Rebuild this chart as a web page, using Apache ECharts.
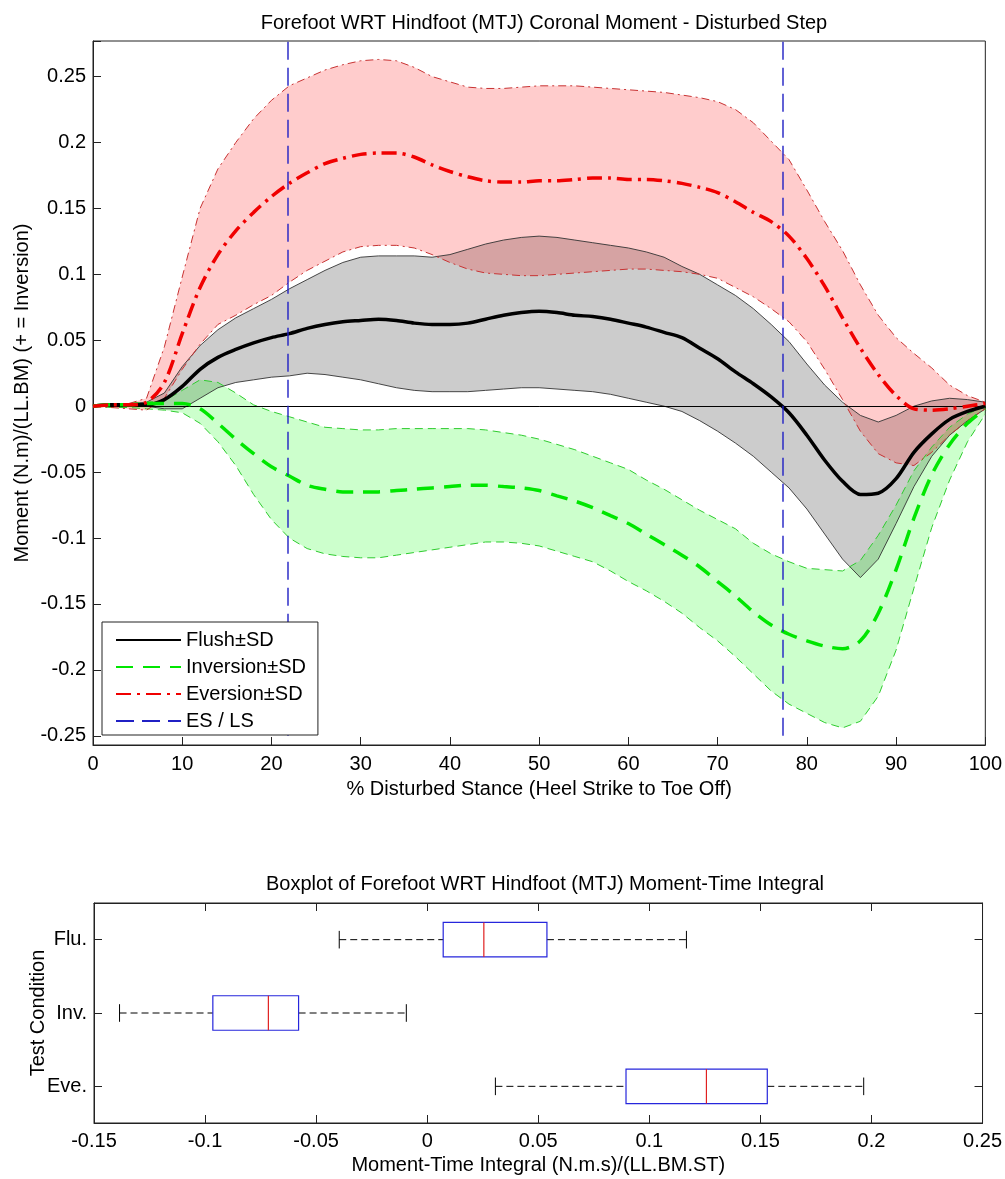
<!DOCTYPE html>
<html>
<head>
<meta charset="utf-8">
<script src="https://cdn.jsdelivr.net/npm/echarts@6/dist/echarts.min.js"></script>
<style>
  html, body { margin: 0; padding: 0; background: #fff; }
  #chart { width: 1005px; height: 1179px; }
</style>
</head>
<body>
<div id="chart"></div>
<script>
// % of disturbed stance (heel strike to toe off)
const stance = [0,2,4,6,8,10,12,14,16,18,20,22,24,26,28,30,32,34,36,38,40,42,44,46,48,50,
  52,54,56,58,60,62,64,66,68,70,72,74,76,78,80,82,84,86,88,90,92,94,96,98,100];

// Flush condition: mean and ±SD bounds, (N.m)/(LL.BM)
const flushMean = [0.000,0.001,0.001,0.001,0.005,0.015,0.028,0.037,0.043,0.048,0.052,0.055,0.059,0.062,0.064,0.065,0.066,0.065,0.063,0.062,0.062,0.063,0.066,0.069,0.071,0.072,
  0.071,0.069,0.068,0.066,0.063,0.060,0.056,0.052,0.044,0.036,0.026,0.017,0.007,-0.005,-0.022,-0.041,-0.057,-0.067,-0.066,-0.055,-0.035,-0.021,-0.010,-0.004,0.000];
const flushUpper = [0.001,0.001,0.002,0.003,0.010,0.030,0.046,0.058,0.067,0.074,0.081,0.089,0.096,0.103,0.109,0.113,0.114,0.114,0.114,0.113,0.115,0.119,0.123,0.126,0.128,0.129,
  0.128,0.126,0.124,0.122,0.120,0.117,0.113,0.106,0.100,0.092,0.084,0.074,0.062,0.049,0.032,0.016,0.003,-0.007,-0.012,-0.007,0.000,0.004,0.006,0.005,0.003];
const flushLower = [0.000,0.000,0.000,0.000,-0.002,-0.002,0.006,0.014,0.018,0.020,0.022,0.023,0.025,0.024,0.022,0.020,0.017,0.014,0.012,0.011,0.011,0.011,0.012,0.013,0.014,0.014,
  0.013,0.012,0.011,0.009,0.006,0.003,0.000,-0.004,-0.011,-0.019,-0.028,-0.038,-0.050,-0.062,-0.078,-0.097,-0.116,-0.130,-0.116,-0.089,-0.061,-0.038,-0.022,-0.011,-0.002];

// Inversion condition
const inversionMean = [0.000,0.001,0.001,0.002,0.002,0.002,-0.002,-0.013,-0.025,-0.036,-0.046,-0.053,-0.060,-0.063,-0.065,-0.065,-0.065,-0.064,-0.063,-0.062,-0.061,-0.060,-0.060,-0.061,-0.062,-0.064,
  -0.068,-0.072,-0.077,-0.083,-0.089,-0.097,-0.105,-0.113,-0.122,-0.133,-0.144,-0.156,-0.166,-0.173,-0.178,-0.182,-0.184,-0.178,-0.157,-0.124,-0.085,-0.052,-0.029,-0.013,-0.002];
const inversionUpper = [0.001,0.001,0.002,0.003,0.004,0.012,0.020,0.018,0.010,0.001,-0.004,-0.008,-0.012,-0.016,-0.017,-0.018,-0.018,-0.017,-0.017,-0.017,-0.017,-0.017,-0.018,-0.020,-0.022,-0.025,
  -0.029,-0.033,-0.038,-0.043,-0.048,-0.056,-0.063,-0.071,-0.079,-0.086,-0.093,-0.104,-0.112,-0.118,-0.123,-0.124,-0.125,-0.117,-0.098,-0.075,-0.049,-0.031,-0.016,-0.006,0.000];
const inversionLower = [0.000,-0.001,-0.001,-0.002,-0.003,-0.005,-0.013,-0.027,-0.045,-0.067,-0.086,-0.100,-0.108,-0.112,-0.114,-0.115,-0.115,-0.113,-0.111,-0.109,-0.107,-0.105,-0.103,-0.103,-0.104,-0.106,
  -0.110,-0.114,-0.118,-0.125,-0.133,-0.140,-0.148,-0.157,-0.168,-0.178,-0.190,-0.203,-0.216,-0.226,-0.233,-0.240,-0.244,-0.239,-0.220,-0.185,-0.138,-0.092,-0.056,-0.027,-0.006];

// Eversion condition
const eversionMean = [0.000,0.001,0.001,0.003,0.018,0.055,0.090,0.115,0.133,0.147,0.159,0.169,0.177,0.184,0.188,0.191,0.192,0.192,0.189,0.183,0.178,0.174,0.171,0.170,0.170,0.171,
  0.171,0.172,0.173,0.173,0.172,0.172,0.171,0.169,0.166,0.162,0.155,0.147,0.140,0.129,0.112,0.091,0.067,0.044,0.024,0.008,-0.002,-0.003,-0.002,0.000,0.002];
const eversionUpper = [0.000,0.001,0.002,0.006,0.045,0.098,0.150,0.180,0.200,0.218,0.232,0.243,0.249,0.255,0.259,0.262,0.263,0.262,0.257,0.250,0.246,0.242,0.241,0.241,0.242,0.243,
  0.243,0.243,0.242,0.241,0.240,0.239,0.238,0.236,0.234,0.231,0.225,0.215,0.201,0.187,0.164,0.140,0.118,0.092,0.069,0.052,0.040,0.029,0.016,0.008,0.003];
const eversionLower = [0.000,-0.001,-0.002,-0.003,0.006,0.028,0.047,0.062,0.069,0.077,0.084,0.094,0.103,0.110,0.117,0.121,0.122,0.122,0.120,0.115,0.109,0.104,0.101,0.100,0.099,0.099,
  0.100,0.101,0.102,0.103,0.104,0.104,0.103,0.102,0.100,0.097,0.090,0.083,0.074,0.064,0.049,0.028,0.005,-0.019,-0.036,-0.043,-0.045,-0.035,-0.022,-0.011,-0.002];

// Early-stance / late-stance boundaries (% stance) and their drawn extent
const esLs = [21.8, 77.3];
const esLsSpan = [-0.25, 0.277];

// Moment-time integral summary per test condition
const boxCats = ['Flu.', 'Inv.', 'Eve.'];
const whiskerLow = [-0.0396, -0.1385, 0.0307];
const quart1 = [0.0072, -0.0965, 0.0895];
const medians = [0.0255, -0.0715, 0.1257];
const quart3 = [0.0539, -0.0579, 0.1531];
const whiskerHigh = [0.1167, -0.0094, 0.1965];

const FONT = '"Liberation Sans", Arial, sans-serif';
const ES_BLUE = '#2020c4';
const pairs = arr => stance.map((x, i) => [x, arr[i]]);
const fmt = v => String(+v.toFixed(2));

function band(name, upper, lower, fill) {
  return {
    type: 'custom', name, xAxisIndex: 0, yAxisIndex: 0, data: [0], silent: true, z: 1,
    renderItem(params, api) {
      const pts = [];
      for (let i = 0; i < stance.length; i++) pts.push(api.coord([stance[i], upper[i]]));
      for (let i = stance.length - 1; i >= 0; i--) pts.push(api.coord([stance[i], lower[i]]));
      return { type: 'polygon', shape: { points: pts }, style: { fill: fill, stroke: null } };
    }
  };
}

function bound(name, arr, color, width, dash) {
  return {
    type: 'line', name, xAxisIndex: 0, yAxisIndex: 0, data: pairs(arr), symbol: 'none',
    silent: true, z: 3, lineStyle: { color, width, type: dash }
  };
}

function mean(name, arr, color, dash) {
  return {
    type: 'line', name, xAxisIndex: 0, yAxisIndex: 0, data: pairs(arr), symbol: 'none',
    smooth: 0.3, silent: true, z: 5, lineStyle: { color, width: 3.5, type: dash, cap: 'butt' },
    itemStyle: { color }
  };
}

const series = [
  band('Flush band', flushUpper, flushLower, 'rgba(0,0,0,0.2)'),
  band('Inversion band', inversionUpper, inversionLower, 'rgba(0,255,0,0.2)'),
  band('Eversion band', eversionUpper, eversionLower, 'rgba(255,0,0,0.2)'),
  bound('Flush upper', flushUpper, '#333333', 0.9, 'solid'),
  bound('Flush lower', flushLower, '#333333', 0.9, 'solid'),
  bound('Inversion upper', inversionUpper, '#2ecc2e', 1, [8, 5]),
  bound('Inversion lower', inversionLower, '#2ecc2e', 1, [8, 5]),
  bound('Eversion upper', eversionUpper, '#c83232', 1, [8, 4, 2, 4]),
  bound('Eversion lower', eversionLower, '#c83232', 1, [8, 4, 2, 4]),
  Object.assign(mean('Flush±SD', flushMean, '#000000', 'solid'), {
    markLine: {
      silent: true, symbol: 'none', label: { show: false },
      lineStyle: { color: '#000', width: 1, type: 'solid' },
      data: [{ yAxis: 0 }]
    }
  }),
  mean('Inversion±SD', inversionMean, '#00e600', [17, 10]),
  mean('Eversion±SD', eversionMean, '#f00000', [15, 6, 3, 6]),
  // legend entry for the stance-phase boundaries
  {
    type: 'line', name: 'ES / LS', xAxisIndex: 0, yAxisIndex: 0, symbol: 'none', silent: true,
    data: [], lineStyle: { color: ES_BLUE, width: 1.2, type: [18, 8] }, itemStyle: { color: ES_BLUE }
  },
  // the boundary lines themselves
  {
    type: 'custom', name: 'ES / LS lines', xAxisIndex: 0, yAxisIndex: 0, silent: true, z: 6,
    data: [0],
    renderItem(params, api) {
      return {
        type: 'group',
        children: esLs.map(x => {
          const p0 = api.coord([x, esLsSpan[0]]);
          const p1 = api.coord([x, esLsSpan[1]]);
          return {
            type: 'line', shape: { x1: Math.round(p0[0]), y1: p0[1], x2: Math.round(p1[0]), y2: p1[1] },
            style: { stroke: ES_BLUE, lineWidth: 1.4, lineDash: [18, 8], fill: null }
          };
        })
      };
    }
  }
];

// boxplot of moment-time integral
series.push({
  type: 'custom', name: 'Moment-time integral', xAxisIndex: 1, yAxisIndex: 1, silent: true, z: 3,
  data: boxCats.map((c, i) => [i, whiskerLow[i], quart1[i], medians[i], quart3[i], whiskerHigh[i]]),
  encode: { y: 0, x: [1, 2, 3, 4, 5] },
  renderItem(params, api) {
    const cat = api.value(0);
    const bandH = api.size([0, 1])[1];
    const hb = bandH * 0.235, hc = bandH * 0.12;
    const lo = api.coord([api.value(1), cat]);
    const b1 = api.coord([api.value(2), cat]);
    const md = api.coord([api.value(3), cat]);
    const b3 = api.coord([api.value(4), cat]);
    const hi = api.coord([api.value(5), cat]);
    const cy = lo[1];
    const dashed = { stroke: '#000', lineWidth: 1, lineDash: [7, 4] };
    const solid = { stroke: '#000', lineWidth: 1 };
    return {
      type: 'group', children: [
        { type: 'line', shape: { x1: lo[0], y1: cy, x2: b1[0], y2: cy }, style: dashed },
        { type: 'line', shape: { x1: b3[0], y1: cy, x2: hi[0], y2: cy }, style: dashed },
        { type: 'line', shape: { x1: lo[0], y1: cy - hc, x2: lo[0], y2: cy + hc }, style: solid },
        { type: 'line', shape: { x1: hi[0], y1: cy - hc, x2: hi[0], y2: cy + hc }, style: solid },
        { type: 'rect', shape: { x: b1[0], y: cy - hb, width: b3[0] - b1[0], height: 2 * hb },
          style: { fill: null, stroke: '#2626dc', lineWidth: 1.2 } },
        { type: 'line', shape: { x1: md[0], y1: cy - hb, x2: md[0], y2: cy + hb },
          style: { stroke: '#e02020', lineWidth: 1.2 } }
      ]
    };
  }
});

const axisText = { fontSize: 20, color: '#000', fontFamily: FONT };
const frameLine = { show: true, onZero: false, lineStyle: { color: '#222', width: 1 } };
const inTicks = { show: true, inside: true, length: 8, lineStyle: { color: '#222', width: 1 } };

const option = {
  animation: false,
  backgroundColor: '#fff',
  textStyle: { fontFamily: FONT },
  title: [
    { text: 'Forefoot WRT Hindfoot (MTJ) Coronal Moment - Disturbed Step', left: 539, top: 8, textAlign: 'center',
      textStyle: { fontSize: 20, fontWeight: 'normal', color: '#000', fontFamily: FONT } },
    { text: 'Boxplot of Forefoot WRT Hindfoot (MTJ) Moment-Time Integral', left: 540, top: 869, textAlign: 'center',
      textStyle: { fontSize: 20, fontWeight: 'normal', color: '#000', fontFamily: FONT } }
  ],
  legend: {
    orient: 'vertical', left: 102, top: 622, selectedMode: false, z: 10,
    backgroundColor: '#fff', borderColor: '#222', borderWidth: 1, borderRadius: 0,
    padding: [8, 12, 4, 13], itemWidth: 65, itemHeight: 20, itemGap: 7,
    itemStyle: { color: 'transparent', borderColor: 'transparent', borderWidth: 0, opacity: 0 },
    textStyle: { fontSize: 20, color: '#000', fontFamily: FONT },
    data: ['Flush±SD', 'Inversion±SD', 'Eversion±SD', 'ES / LS']
  },
  grid: [
    { left: 93, top: 41, right: 19, bottom: 434, show: true, borderColor: '#222', borderWidth: 1, backgroundColor: 'transparent' },
    { left: 94, top: 903, right: 18, bottom: 56, show: true, borderColor: '#222', borderWidth: 1, backgroundColor: 'transparent' }
  ],
  xAxis: [
    { type: 'value', gridIndex: 0, min: 0, max: 100, interval: 10,
      axisLine: frameLine, axisTick: inTicks, splitLine: { show: false },
      axisLabel: Object.assign({ margin: 9 }, axisText),
      name: '% Disturbed Stance (Heel Strike to Toe Off)', nameLocation: 'middle', nameGap: 34,
      nameTextStyle: axisText },
    { type: 'value', gridIndex: 1, min: -0.15, max: 0.25, interval: 0.05,
      axisLine: frameLine, axisTick: inTicks, splitLine: { show: false },
      axisLabel: Object.assign({ margin: 8, formatter: fmt }, axisText),
      name: 'Moment-Time Integral (N.m.s)/(LL.BM.ST)', nameLocation: 'middle', nameGap: 32,
      nameTextStyle: axisText },
    { type: 'value', gridIndex: 1, position: 'top', min: -0.15, max: 0.25, interval: 0.05,
      axisLine: frameLine, axisTick: inTicks, splitLine: { show: false }, axisLabel: { show: false } }
  ],
  yAxis: [
    { type: 'value', gridIndex: 0, min: -0.257, max: 0.277, splitNumber: 10,
      axisLine: frameLine, axisTick: inTicks, splitLine: { show: false },
      axisLabel: Object.assign({ margin: 7, showMinLabel: true, showMaxLabel: true,
        formatter: v => (Math.abs(v / 0.05 - Math.round(v / 0.05)) < 1e-6 ? fmt(v) : '') }, axisText),
      name: 'Moment (N.m)/(LL.BM) (+ = Inversion)', nameLocation: 'middle', nameGap: 61,
      nameMoveOverlap: false, nameTextStyle: axisText },
    { type: 'category', gridIndex: 1, data: boxCats, inverse: true,
      axisLine: frameLine, axisTick: Object.assign({ alignWithLabel: true }, inTicks),
      axisLabel: Object.assign({ margin: 7 }, axisText), splitLine: { show: false },
      name: 'Test Condition', nameLocation: 'middle', nameGap: 46, nameMoveOverlap: false,
      nameTextStyle: axisText },
    { type: 'category', gridIndex: 1, data: boxCats, inverse: true, position: 'right',
      axisLine: frameLine, axisTick: Object.assign({ alignWithLabel: true }, inTicks),
      axisLabel: { show: false }, splitLine: { show: false } }
  ],
  series
};

const chart = echarts.init(document.getElementById('chart'), null, { renderer: 'canvas' });
chart.setOption(option);
</script>
</body>
</html>
